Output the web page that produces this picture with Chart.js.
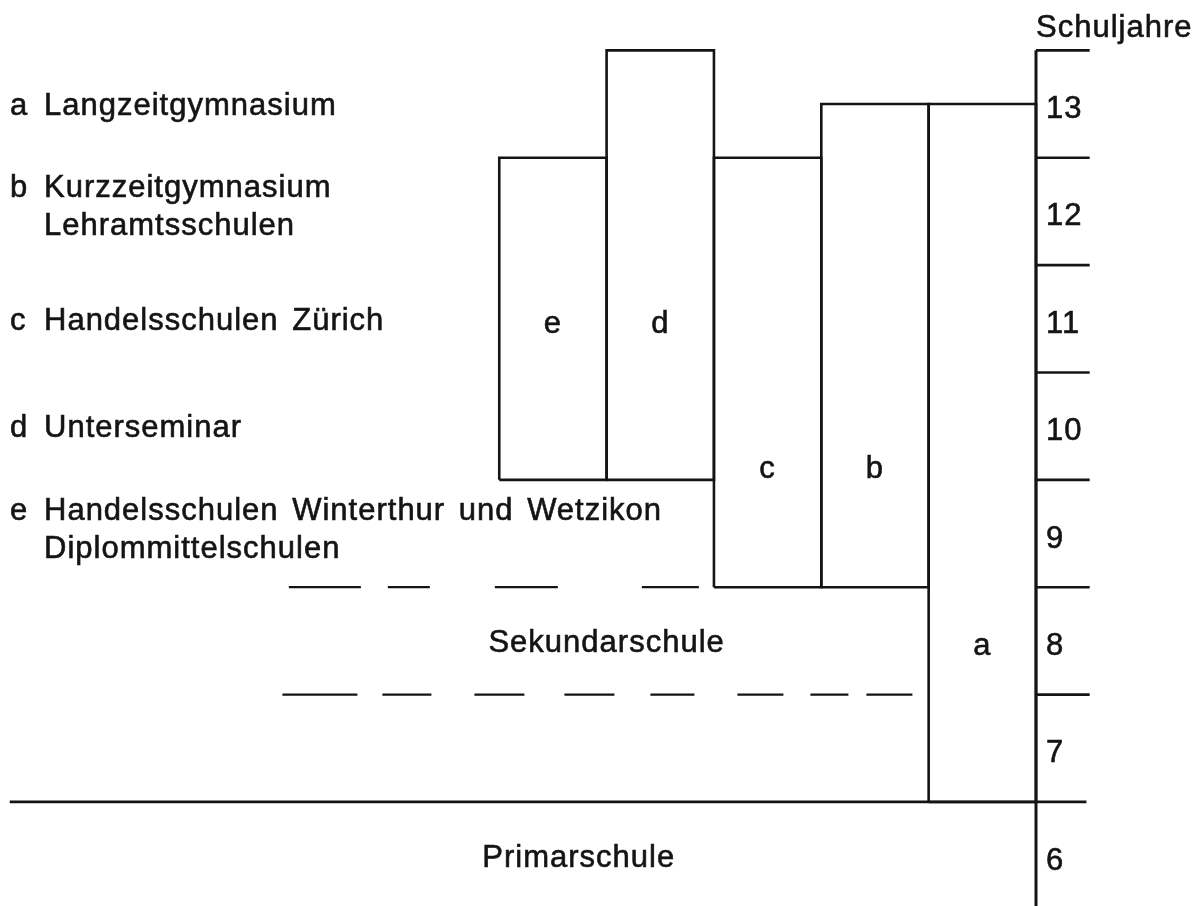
<!DOCTYPE html>
<html>
<head>
<meta charset="utf-8">
<script src="https://cdn.jsdelivr.net/npm/chart.js@4/dist/chart.umd.min.js"></script>
<style>
  html, body { margin:0; padding:0; background:#fff; }
  #wrap { width:1198px; height:906px; position:relative; }
</style>
</head>
<body>
<div id="wrap"><canvas id="chart"></canvas></div>
<script>
// school types (column 1 = next to the year axis, counted leftwards)
const programLetters   = ['a','b','c','d','e'];
const programNames     = [
  ['Langzeitgymnasium'],
  ['Kurzzeitgymnasium','Lehramtsschulen'],
  ['Handelsschulen Zürich'],
  ['Unterseminar'],
  ['Handelsschulen Winterthur und Wetzikon','Diplommittelschulen']
];
const programColumn    = [1, 2, 3, 4, 5];
const programFirstYear = [7, 9, 9, 10, 10];
const programEndYear   = [12.5, 12.5, 12, 13, 12];

const schoolYears = [6, 7, 8, 9, 10, 11, 12, 13];
const primarLastYear = 6;
const sekundarYears = [7, 8];
const levelNames = ['Primarschule', 'Sekundarschule'];
const axisTitle = 'Schuljahre';

const INK = '#141414';
const FONT = '31px "Liberation Sans", Arial, Helvetica, sans-serif';

function seg(x0, y0, x1, y1) { return [{x:x0, y:y0}, {x:x1, y:y1}]; }

const datasets = [];

// programme boxes
programLetters.forEach((l, i) => {
  const x1 = -programColumn[i] + 1, x0 = -programColumn[i];
  const yb = programFirstYear[i] - 1, yt = programEndYear[i];
  datasets.push({ label: l, data: [
    {x:x0, y:yb}, {x:x0, y:yt}, {x:x1, y:yt}, {x:x1, y:yb}, {x:x0, y:yb}
  ], borderWidth: 2.6 });
});

// year axis and its ticks
datasets.push({ label: 'axis', data: seg(0, 4, 0, schoolYears[schoolYears.length-1]), borderWidth: 3 });
schoolYears.forEach(y => {
  if (y === primarLastYear) return;
  datasets.push({ label: 'tick' + y, data: seg(0, y, 0.5, y), borderWidth: 2.6 });
});

// end of Primarschule
datasets.push({ label: 'primar', data: seg(-9.56, primarLastYear, 0.47, primarLastYear), borderWidth: 2.8 });

// Sekundarschule dashed boundaries
datasets.push({ label: 'sek-top', data: seg(-6.96, sekundarYears[1], -3.07, sekundarYears[1]),
  borderWidth: 2.2, borderDash: [72, 27, 42, 65, 63, 84, 57, 20] });
datasets.push({ label: 'sek-mid', data: seg(-7.02, sekundarYears[0], -1.15, sekundarYears[0]),
  borderWidth: 2.2, borderDash: [75, 25, 49, 43, 50, 40, 50, 36, 44, 43, 46, 27, 38, 18, 46, 20] });

datasets.forEach(d => {
  d.borderColor = INK;
  d.pointRadius = 0;
  d.fill = false;
  d.tension = 0;
  d.borderJoinStyle = 'miter';
});

function inkText(ctx, t, px, py) {
  ctx.fillText(t, px, py);
  ctx.strokeText(t, px, py);
}

const textPlugin = {
  id: 'texts',
  afterDatasetsDraw(chart) {
    const { ctx, chartArea, scales: { x, y } } = chart;
    ctx.save();
    ctx.fillStyle = INK;
    ctx.strokeStyle = INK;
    ctx.lineWidth = 0.6;
    ctx.font = FONT;
    ctx.letterSpacing = '1px';
    ctx.wordSpacing = '4px';
    ctx.textBaseline = 'alphabetic';

    // legend on the left
    const rowY = [12.5, 11.56, 10.5, 9.5, 8.55];
    programLetters.forEach((l, i) => {
      const lines = programNames[i];
      const cy = y.getPixelForValue(rowY[i]) - (lines.length - 1) * 19;
      ctx.textAlign = 'left';
      inkText(ctx, l, chartArea.left + 10, cy + 11);
      lines.forEach((t, k) => inkText(ctx, t, chartArea.left + 44, cy + 11 + k * 38));
    });

    // letters inside boxes
    const letterY = [7.44, 9.09, 9.09, 10.44, 10.44];
    ctx.textAlign = 'center';
    programLetters.forEach((l, i) => {
      inkText(ctx, l, x.getPixelForValue(-programColumn[i] + 0.5), y.getPixelForValue(letterY[i]) + 8);
    });

    // school level names
    inkText(ctx, levelNames[1], x.getPixelForValue(-4), y.getPixelForValue(7.5) + 11);
    inkText(ctx, levelNames[0], x.getPixelForValue(-4.26), y.getPixelForValue(5.5) + 11);

    // year numbers
    ctx.textAlign = 'left';
    schoolYears.forEach(yr => {
      inkText(ctx, String(yr), x.getPixelForValue(0) + 10, y.getPixelForValue(yr - 0.5) + 14);
    });
    inkText(ctx, axisTitle, x.getPixelForValue(0), y.getPixelForValue(13) - 13);
    ctx.restore();
  }
};

new Chart(document.getElementById('chart'), {
  type: 'line',
  data: { datasets },
  options: {
    responsive: true,
    maintainAspectRatio: false,
    animation: false,
    layout: { padding: 0 },
    plugins: { legend: { display: false }, tooltip: { enabled: false } },
    scales: {
      x: { type: 'linear', min: -9.6507, max: 1.5091, display: false },
      y: { type: 'linear', min: 5.031, max: 13.469, display: false }
    }
  },
  plugins: [textPlugin]
});
</script>
</body>
</html>
